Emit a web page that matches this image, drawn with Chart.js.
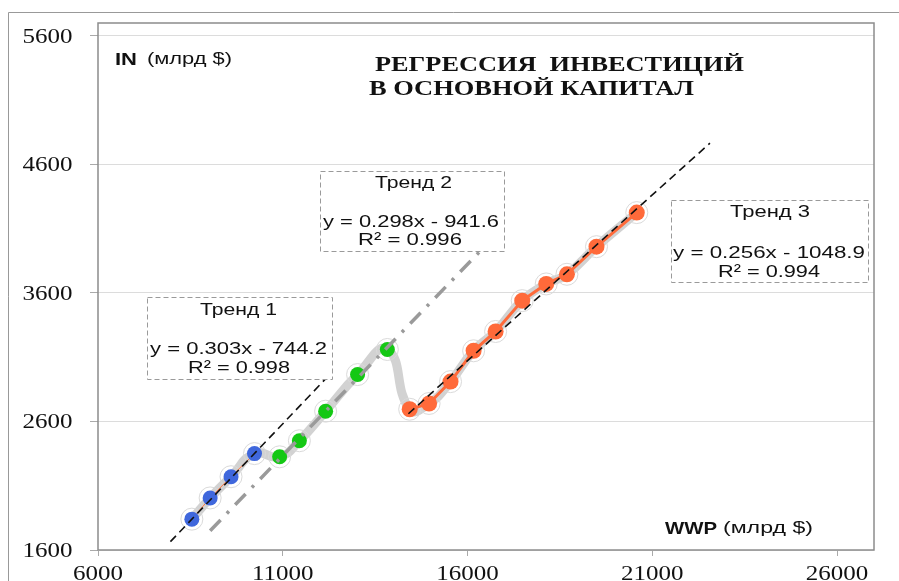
<!DOCTYPE html>
<html>
<head>
<meta charset="utf-8">
<script src="https://cdn.jsdelivr.net/npm/chart.js@4/dist/chart.umd.min.js"></script>
<style>
  html, body { margin: 0; padding: 0; background: #fff; }
  canvas { display: block; }
</style>
</head>
<body>
<canvas id="myChart" width="899" height="581"></canvas>
<script>
// data (WWP vs IN, bn $)
const blueX = [8540, 9035, 9600, 10235];
const blueY = [1840, 2005, 2170, 2350];
const greenX = [10915, 11450, 12160, 13025, 13830];
const greenY = [2325, 2450, 2680, 2965, 3160];
const orangeX = [14435, 14960, 15540, 16165, 16760, 17480, 18130, 18690, 19490, 20580];
const orangeY = [2695, 2740, 2910, 3150, 3300, 3540, 3670, 3745, 3960, 4225];

// trend lines, end points
const trend1X = [7960, 12270];
const trend1Y = [1665, 2965];
const trend2X = [9035, 16460];
const trend2Y = [1750, 3960];
const trend3X = [14400, 22560];
const trend3Y = [2660, 4765];

const xTicks = [6000, 11000, 16000, 21000, 26000];
const yTicks = [1600, 2600, 3600, 4600, 5600];

const trendNames = ["Тренд 1", "Тренд 2", "Тренд 3"];
const trendEqs = ["y = 0.303x - 744.2", "y = 0.298x - 941.6", "y = 0.256x - 1048.9"];
const trendR2 = ["R² = 0.998", "R² = 0.996", "R² = 0.994"];

function pts(xs, ys) { return xs.map((x, i) => ({ x: x, y: ys[i] })); }

const allX = blueX.concat(greenX, orangeX);
const allY = blueY.concat(greenY, orangeY);

// text squeezed/stretched horizontally
function txt(ctx, s, x, y, font, sx, align) {
    ctx.save();
    ctx.font = font;
    ctx.textBaseline = "middle";
    ctx.textAlign = "left";
    let w = ctx.measureText(s).width * sx;
    let x0 = x;
    if (align === "center") x0 = x - w / 2;
    if (align === "right") x0 = x - w;
    ctx.translate(x0, y);
    ctx.scale(sx, 1);
    ctx.fillText(s, 0, 0);
    ctx.restore();
}
function fit(ctx, s, x0, x1, y, font) {
    ctx.save();
    ctx.font = font;
    let sx = (x1 - x0) / ctx.measureText(s).width;
    ctx.restore();
    txt(ctx, s, x0, y, font, sx, "left");
}

const boxes = [
    { x0: 147, y0: 297, x1: 332, y1: 379, name: [200, 277, 310], eq: [150, 327, 349], r2: [188, 290, 368] },
    { x0: 320, y0: 171, x1: 504, y1: 251, name: [375, 452, 183], eq: [323, 499, 222], r2: [358, 462, 240] },
    { x0: 671, y0: 200, x1: 868, y1: 282, name: [730, 810, 212], eq: [673, 865, 253], r2: [718, 820, 272] }
];

const decor = {
    id: "decor",
    beforeDraw(chart) {
        const ctx = chart.ctx;
        ctx.save();
        ctx.fillStyle = "#fff";
        ctx.fillRect(0, 0, chart.width, chart.height);
        ctx.strokeStyle = "#999";
        ctx.lineWidth = 1;
        ctx.beginPath();
        ctx.moveTo(8.5, chart.height);
        ctx.lineTo(8.5, 12.5);
        ctx.lineTo(chart.width, 12.5);
        ctx.stroke();
        ctx.restore();
    },
    afterDraw(chart) {
        const ctx = chart.ctx;
        const a = chart.chartArea;
        const xs = chart.scales.x, ys = chart.scales.y;
        ctx.save();
        // plot frame
        ctx.strokeStyle = "#8c8c8c";
        ctx.lineWidth = 1.5;
        ctx.strokeRect(a.left, a.top, a.right - a.left, a.bottom - a.top);

        // tick labels
        ctx.fillStyle = "#111";
        ys.ticks.forEach(t => {
            txt(ctx, String(t.value), 72.5, ys.getPixelForValue(t.value) + 1.5, "20px 'Liberation Serif'", 1.25, "right");
        });
        xs.ticks.forEach(t => {
            txt(ctx, String(t.value), xs.getPixelForValue(t.value), 575, "20px 'Liberation Serif'", 1.25, "center");
        });

        // title
        fit(ctx, "РЕГРЕССИЯ  ИНВЕСТИЦИЙ", 375, 744, 66, "bold 20px 'Liberation Serif'");
        fit(ctx, "В ОСНОВНОЙ КАПИТАЛ", 369, 694, 90, "bold 20px 'Liberation Serif'");

        // axis names
        fit(ctx, "IN", 115, 137, 60, "bold 17px 'Liberation Sans'");
        fit(ctx, "(млрд $)", 147, 232, 60, "16px 'Liberation Sans'");
        fit(ctx, "WWP", 665, 717, 529, "bold 17px 'Liberation Sans'");
        fit(ctx, "(млрд $)", 723, 813, 529, "16px 'Liberation Sans'");

        // trend boxes
        boxes.forEach((b, i) => {
            ctx.fillStyle = "#fff";
            ctx.fillRect(b.x0, b.y0, b.x1 - b.x0, b.y1 - b.y0);
            ctx.setLineDash([5, 3]);
            ctx.strokeStyle = "#9a9a9a";
            ctx.lineWidth = 1;
            ctx.strokeRect(b.x0 + 0.5, b.y0 + 0.5, b.x1 - b.x0, b.y1 - b.y0);
            ctx.setLineDash([]);
            ctx.fillStyle = "#111";
            fit(ctx, trendNames[i], b.name[0], b.name[1], b.name[2], "17px 'Liberation Sans'");
            fit(ctx, trendEqs[i], b.eq[0], b.eq[1], b.eq[2], "17px 'Liberation Sans'");
            fit(ctx, trendR2[i], b.r2[0], b.r2[1], b.r2[2], "17px 'Liberation Sans'");
        });
        ctx.restore();
    }
};

const ctx = document.getElementById("myChart");
const myChart = new Chart(ctx, {
    type: "scatter",
    data: {
        datasets: [
            {   // trend 1
                data: pts(trend1X, trend1Y), showLine: true, order: 0,
                borderColor: "#111", borderWidth: 1.6, borderDash: [8, 5], pointRadius: 0
            },
            {   // trend 3
                data: pts(trend3X, trend3Y), showLine: true, order: 0,
                borderColor: "#111", borderWidth: 1.6, borderDash: [8, 5], pointRadius: 0
            },
            {   // trend 2
                data: pts(trend2X, trend2Y), showLine: true, order: 0,
                borderColor: "#9a9a9a", borderWidth: 3.5, borderDash: [15, 9, 3, 9], pointRadius: 0
            },
            {
                data: pts(blueX, blueY), showLine: true, order: 1,
                borderColor: "#ff7a45", borderWidth: 1,
                pointRadius: 7.5, pointBackgroundColor: "#3f67dc", pointBorderWidth: 0
            },
            {
                data: pts(greenX, greenY), showLine: false, order: 1,
                pointRadius: 7.5, pointBackgroundColor: "#14c814", pointBorderWidth: 0
            },
            {
                data: pts(orangeX, orangeY), showLine: true, order: 1,
                borderColor: "#ff6a3a", borderWidth: 3,
                pointRadius: 8, pointBackgroundColor: "#ff6a3a", pointBorderWidth: 0
            },
            {   // faint rings round the markers
                data: pts(allX, allY), showLine: false, order: 2,
                pointRadius: 11, pointBackgroundColor: "rgba(255,255,255,0)",
                pointBorderColor: "#dadada", pointBorderWidth: 1
            },
            {   // smoothed grey path
                data: pts(allX, allY), showLine: true, order: 3, tension: 0.5,
                borderColor: "#d2d2d2", borderWidth: 9, pointRadius: 0
            }
        ]
    },
    options: {
        responsive: false,
        animation: false,
        devicePixelRatio: 1,
        layout: { padding: { left: 8, top: 23, right: 25, bottom: 0 } },
        plugins: { legend: { display: false }, tooltip: { enabled: false } },
        scales: {
            x: {
                type: "linear", min: 6000, max: 27000,
                afterBuildTicks: s => { s.ticks = xTicks.map(v => ({ value: v })); },
                afterFit: s => { s.height = 31; },
                ticks: { display: false },
                border: { display: false },
                grid: { drawOnChartArea: false, drawTicks: true, tickLength: 6, tickColor: "#aaa" }
            },
            y: {
                type: "linear", min: 1600, max: 5700,
                afterBuildTicks: s => { s.ticks = yTicks.map(v => ({ value: v })); },
                afterFit: s => { s.width = 90; },
                ticks: { display: false },
                border: { display: false },
                grid: { color: "#dcdcdc", lineWidth: 1, drawTicks: true, tickLength: 8, tickColor: "#aaa" }
            }
        }
    },
    plugins: [decor]
});
</script>
</body>
</html>
